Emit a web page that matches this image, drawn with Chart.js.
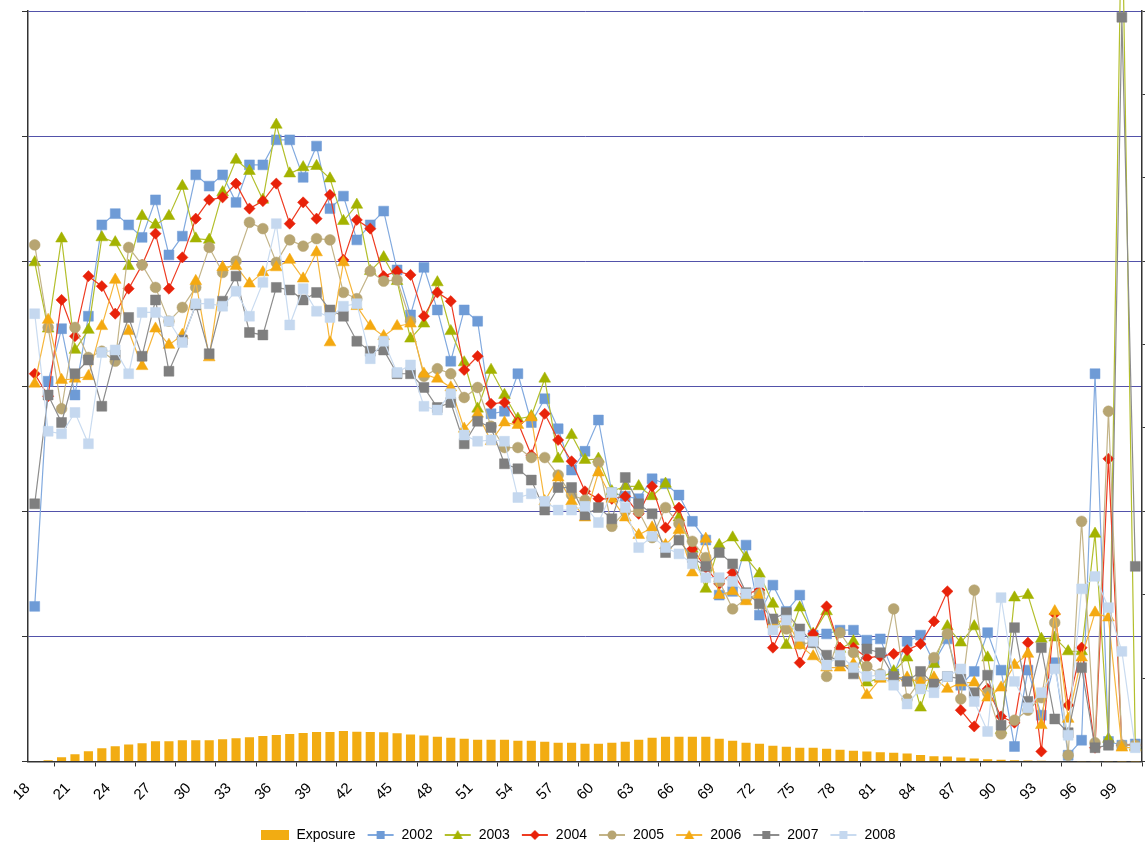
<!DOCTYPE html>
<html>
<head>
<meta charset="utf-8">
<script src="https://cdn.jsdelivr.net/npm/chart.js@4.4.1/dist/chart.umd.min.js"></script>
<style>
  html, body { margin: 0; padding: 0; background: #fff; }
  #wrap { width: 1145px; height: 846px; }
</style>
</head>
<body>
<div id="wrap"><canvas id="chart" width="1145" height="846"></canvas></div>
<script>
const ages = [
  '18', '19', '20', '21', '22', '23', '24', '25', '26', '27',
  '28', '29', '30', '31', '32', '33', '34', '35', '36', '37',
  '38', '39', '40', '41', '42', '43', '44', '45', '46', '47',
  '48', '49', '50', '51', '52', '53', '54', '55', '56', '57',
  '58', '59', '60', '61', '62', '63', '64', '65', '66', '67',
  '68', '69', '70', '71', '72', '73', '74', '75', '76', '77',
  '78', '79', '80', '81', '82', '83', '84', '85', '86', '87',
  '88', '89', '90', '91', '92', '93', '94', '95', '96', '97',
  '98', '99', '100'
];

// exposure, right axis
const exposure = [
  0.6, 1.6, 5.2, 8.8, 12.4, 16.0, 18.4, 20.5, 22.0, 24.4,
  24.4, 25.6, 25.6, 25.6, 26.8, 28.0, 29.2, 30.4, 31.6, 32.9,
  34.1, 35.3, 35.3, 36.5, 35.5, 35.3, 34.9, 33.7, 32.2, 31.0,
  29.8, 28.6, 27.4, 26.2, 26.2, 26.2, 25.0, 25.0, 23.8, 22.6,
  22.6, 21.4, 21.4, 22.6, 23.8, 26.2, 28.6, 29.8, 29.8, 29.8,
  29.8, 27.4, 25.0, 22.6, 21.4, 19.0, 17.8, 16.6, 16.6, 15.4,
  14.2, 13.0, 12.0, 11.1, 10.6, 9.6, 7.8, 6.3, 6.0, 4.8,
  3.6, 2.8, 2.0, 1.6, 1.2, 0.8, 0.6, 0.5, 0.4, 0.2,
  0.2, 0.1, 0.1
];

// yearly series, left axis
const s2002 = [
  12.4, 30.4, 34.6, 29.3, 35.6, 42.9, 43.8, 42.9, 41.9, 44.9,
  40.5, 42.0, 46.9, 46.0, 46.9, 44.7, 47.7, 47.7, 49.7, 49.7,
  46.7, 49.2, 44.2, 45.2, 41.7, 42.9, 44.0, 39.3, 35.7, 39.5,
  36.1, 32.0, 36.1, 35.2, 27.8, 28.0, 31.0, 27.1, 29.0, 26.6,
  23.3, 24.8, 27.3, 21.5, 21.2, 21.0, 22.6, 22.2, 21.3, 19.2,
  17.7, 13.3, 13.6, 17.3, 11.7, 14.1, 12.0, 13.3, 10.1, 10.2,
  10.5, 10.5, 9.7, 9.8, 7.0, 9.6, 10.1, 7.9, 9.8, 6.1,
  7.2, 10.3, 7.3, 1.2, 7.3, 3.7, 7.9, 0.5, 1.7, 31.0,
  1.6, 1.3, 1.4
];
const s2003 = [
  39.9, 34.6, 41.8, 32.9, 34.5, 41.9, 41.5, 39.6, 43.6, 42.9,
  43.6, 46.0, 41.8, 41.7, 45.5, 48.1, 47.2, 44.9, 50.9, 47.0,
  47.5, 47.6, 46.6, 43.2, 44.5, 39.2, 40.3, 38.4, 33.8, 35.0,
  38.3, 34.4, 31.9, 28.2, 31.3, 29.3, 27.4, 27.6, 30.6, 24.2,
  26.1, 24.1, 24.2, 21.6, 22.0, 22.0, 21.2, 22.2, 19.5, 17.0,
  13.8, 17.3, 17.9, 16.3, 15.0, 12.6, 9.3, 12.3, 10.2, 12.0,
  9.0, 9.6, 6.3, 6.7, 7.2, 8.3, 4.3, 7.8, 10.8, 9.5,
  10.8, 8.3, 2.5, 13.1, 13.3, 9.8, 9.9, 8.8, 8.8, 18.2,
  1.8, 70.0, 1.2
];
const s2004 = [
  31.0, 29.2, 36.9, 34.0, 38.8, 38.0, 35.8, 37.8, 39.7, 42.2,
  37.8, 40.3, 43.4, 44.9, 45.1, 46.2, 44.2, 44.8, 46.2, 43.0,
  44.7, 43.4, 45.3, 40.1, 43.3, 42.6, 38.8, 39.2, 38.9, 35.6,
  37.5, 36.8, 31.3, 32.4, 28.6, 28.7, 27.1, 24.5, 27.8, 25.7,
  24.0, 21.6, 21.0, 21.0, 21.2, 19.8, 22.0, 18.7, 20.3, 17.0,
  15.5, 14.2, 15.1, 13.4, 13.7, 9.1, 11.4, 7.9, 10.2, 12.4,
  9.1, 9.1, 8.3, 8.4, 8.6, 8.9, 9.4, 11.2, 13.6, 4.1,
  2.8, 5.8, 3.6, 3.1, 9.5, 0.8, 11.8, 4.5, 9.1, 1.1,
  24.2, 1.3, 1.3
];
const s2005 = [
  41.3, 34.7, 28.2, 34.7, 32.3, 32.8, 32.0, 41.1, 39.7, 37.9,
  35.2, 36.3, 37.9, 41.1, 39.1, 40.0, 43.1, 42.6, 39.9, 41.7,
  41.2, 41.8, 41.7, 37.5, 37.0, 39.2, 38.4, 38.5, 35.2, 30.8,
  31.4, 31.0, 29.1, 29.9, 26.8, 25.1, 25.1, 24.3, 24.3, 22.9,
  21.3, 20.9, 23.9, 18.8, 20.0, 20.0, 17.9, 20.3, 19.0, 17.6,
  16.3, 14.4, 12.2, 13.0, 13.4, 11.2, 10.6, 9.4, 9.5, 6.8,
  10.3, 8.7, 7.6, 7.0, 12.2, 5.0, 6.5, 8.3, 10.2, 5.0,
  13.7, 5.5, 2.2, 3.3, 4.1, 5.1, 11.1, 0.5, 19.2, 1.5,
  28.0, 1.3, 1.3
];
const s2006 = [
  30.2, 35.3, 30.5, 30.6, 30.8, 34.8, 38.5, 34.4, 31.6, 34.6,
  33.3, 34.1, 38.4, 32.3, 39.5, 39.6, 38.2, 39.1, 39.5, 40.1,
  38.6, 40.7, 33.5, 39.9, 36.4, 34.8, 34.0, 34.8, 35.0, 31.0,
  30.6, 29.9, 26.6, 27.8, 25.6, 27.1, 26.9, 27.5, 20.8, 22.7,
  20.8, 19.5, 23.1, 21.0, 19.5, 18.1, 18.7, 17.3, 18.5, 15.1,
  17.8, 13.3, 13.6, 12.8, 13.3, 11.0, 11.4, 9.3, 8.4, 7.5,
  7.5, 7.8, 5.3, 6.6, 6.7, 6.7, 6.3, 6.7, 5.8, 6.3,
  6.3, 5.1, 5.9, 7.7, 8.6, 2.9, 12.0, 3.4, 8.3, 11.9,
  11.5, 1.1, 1.1
];
const s2007 = [
  20.6, 29.3, 27.1, 31.0, 32.1, 28.4, 32.5, 35.5, 32.4, 36.9,
  31.2, 33.7, 36.5, 32.6, 36.8, 38.8, 34.3, 34.1, 37.9, 37.7,
  36.9, 37.5, 36.1, 35.6, 33.6, 32.8, 32.9, 31.0, 31.0, 29.9,
  28.3, 28.7, 25.4, 27.2, 26.7, 23.8, 23.4, 22.5, 20.1, 21.9,
  21.9, 19.7, 20.3, 19.4, 22.7, 20.6, 19.8, 16.7, 17.7, 16.3,
  15.6, 16.7, 15.8, 13.5, 12.6, 11.4, 11.9, 10.6, 9.5, 8.5,
  8.0, 7.0, 9.0, 8.7, 6.8, 6.4, 7.2, 6.2, 6.8, 6.6,
  5.5, 6.9, 2.9, 10.7, 4.8, 9.1, 3.4, 2.3, 7.5, 1.1,
  1.3, 59.5, 15.6
];
const s2008 = [
  35.8, 26.4, 26.2, 27.9, 25.4, 32.7, 32.9, 31.0, 35.9, 35.9,
  35.2, 33.5, 36.6, 36.6, 36.4, 37.6, 35.6, 38.3, 43.0, 34.9,
  37.8, 36.0, 35.5, 36.4, 36.6, 32.2, 33.6, 31.1, 31.7, 28.4,
  28.1, 29.4, 26.1, 25.6, 25.7, 25.6, 21.1, 21.4, 20.8, 20.1,
  20.1, 20.4, 19.1, 21.5, 20.3, 17.1, 18.0, 17.1, 16.6, 15.8,
  14.7, 14.7, 14.4, 13.4, 14.3, 10.5, 11.3, 10.0, 9.6, 7.7,
  8.5, 7.5, 6.8, 6.9, 6.1, 4.6, 5.8, 5.5, 6.8, 7.4,
  4.8, 2.4, 13.1, 6.4, 4.3, 5.5, 7.4, 2.1, 13.8, 14.8,
  12.3, 8.8, 1.1
];

const years = ['2002', '2003', '2004', '2005', '2006', '2007', '2008'];
const series = [s2002, s2003, s2004, s2005, s2006, s2007, s2008];
const markerColors = ['#6e9bd6', '#a4b300', '#e8220a', '#b7a572', '#f4a911', '#7f7f7f', '#c5d8ef'];
const lineColors = ['#82aadf', '#b3bf2c', '#ee3c22', '#c3b488', '#f6b63c', '#8d8d8d', '#c9dbf0'];
const shapes = ['rect', 'triangle', 'rectRot', 'circle', 'triangle', 'rect', 'rect'];
const radii = [7, 6.8, 5.6, 5.4, 6.8, 7, 7];
const barColor = '#f2ac12';

// little pictures for the legend: line + marker, or a filled box
function legendIcon(shape, lineCol, fillCol) {
  const c = document.createElement('canvas');
  c.width = 28; c.height = 14;
  const g = c.getContext('2d');
  if (shape === 'bar') {
    g.fillStyle = fillCol;
    g.fillRect(0, 2, 28, 10);
    return c;
  }
  g.strokeStyle = lineCol;
  g.lineWidth = 2;
  g.beginPath(); g.moveTo(1, 7); g.lineTo(27, 7); g.stroke();
  g.fillStyle = fillCol;
  g.beginPath();
  if (shape === 'rect') g.rect(10, 3, 8, 8);
  else if (shape === 'triangle') { g.moveTo(14, 2); g.lineTo(19, 11); g.lineTo(9, 11); g.closePath(); }
  else if (shape === 'rectRot') { g.moveTo(14, 2); g.lineTo(19, 7); g.lineTo(14, 12); g.lineTo(9, 7); g.closePath(); }
  else g.arc(14, 7, 4.5, 0, Math.PI * 2);
  g.fill();
  return c;
}

const icons = [legendIcon('bar', barColor, barColor)];
years.forEach((y, i) => icons.push(legendIcon(shapes[i], lineColors[i], markerColors[i])));

const datasets = [{
  type: 'bar',
  label: 'Exposure',
  data: exposure,
  yAxisID: 'y2',
  backgroundColor: barColor,
  borderWidth: 0,
  barPercentage: 0.68,
  categoryPercentage: 1,
  order: 10
}];
years.forEach((y, i) => {
  datasets.push({
    type: 'line',
    label: y,
    data: series[i],
    yAxisID: 'y',
    borderColor: lineColors[i],
    borderWidth: 1.2,
    pointStyle: shapes[i],
    pointRadius: radii[i],
    pointBackgroundColor: markerColors[i],
    pointBorderColor: markerColors[i],
    pointBorderWidth: 0.5,
    tension: 0,
    clip: { left: 2, top: 12, right: 2, bottom: 2 },
    order: 7 - i
  });
});

Chart.defaults.font.family = '"Liberation Sans", Arial, sans-serif';

new Chart(document.getElementById('chart'), {
  type: 'bar',
  data: { labels: ages, datasets: datasets },
  options: {
    responsive: false,
    animation: false,
    layout: { autoPadding: false, padding: { left: 12, right: 0, top: 11, bottom: -6 } },
    scales: {
      x: {
        offset: true,
        grid: { offset: true, drawOnChartArea: false, tickLength: 5, tickColor: '#333' },
        border: { color: '#333', width: 1.5 },
        ticks: {
          autoSkip: false,
          minRotation: 45,
          maxRotation: 45,
          padding: 13,
          labelOffset: -7,
          color: '#000',
          font: { size: 15 },
          // only every third age gets a label
          callback: (v, i) => (i % 3 === 0 ? ages[i] : null)
        },
        afterFit: (s) => { s.paddingRight = 0; }
      },
      y: {
        position: 'left',
        min: 0,
        max: 60,
        ticks: { display: false, stepSize: 10 },
        grid: { color: '#5252aa', lineWidth: 1, tickLength: 6, tickColor: '#333' },
        border: { color: '#333', width: 1.5 },
        afterFit: (s) => { s.width = 16; }
      },
      y2: {
        position: 'right',
        min: 0,
        max: 900,
        ticks: { display: false, stepSize: 100 },
        grid: { drawOnChartArea: false, tickLength: 3, tickColor: '#333' },
        border: { color: '#333', width: 1.5 }
      }
    },
    plugins: {
      tooltip: { enabled: false },
      legend: {
        position: 'bottom',
        labels: {
          usePointStyle: true,
          pointStyleWidth: 28,
          color: '#000',
          font: { size: 14 },
          padding: 11,
          sort: (a, b) => a.datasetIndex - b.datasetIndex,
          generateLabels(chart) {
            const items = Chart.defaults.plugins.legend.labels.generateLabels(chart);
            items.forEach(it => { it.pointStyle = icons[it.datasetIndex]; });
            return items;
          }
        }
      }
    }
  }
});
</script>
</body>
</html>
